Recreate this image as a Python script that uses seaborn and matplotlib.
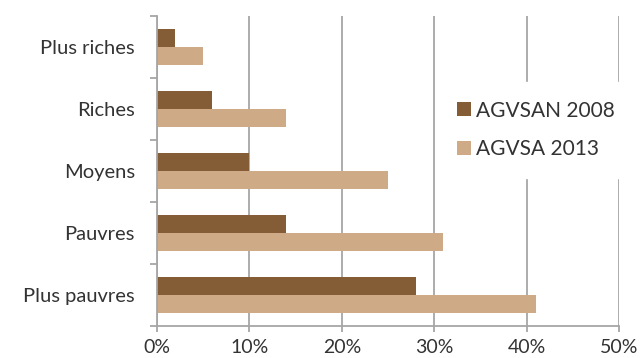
import matplotlib
matplotlib.use("Agg")
import matplotlib.pyplot as plt
import seaborn as sns
import pandas as pd
from matplotlib.ticker import FixedLocator, PercentFormatter
from matplotlib.patches import Patch

categories = ["Plus riches", "Riches", "Moyens", "Pauvres", "Plus pauvres"]
series_names = ["AGVSAN 2008", "AGVSA 2013"]
agvsan_2008 = [2, 6, 10, 14, 28]
agvsa_2013 = [5, 14, 25, 31, 41]
x_ticks = [0, 10, 20, 30, 40, 50]

colors = ["#845C36", "#CFAA87"]

df = pd.DataFrame({
    "cat": categories * 2,
    "serie": [series_names[0]] * 5 + [series_names[1]] * 5,
    "val": agvsan_2008 + agvsa_2013,
})

sns.set_theme(style="white")
plt.rcParams["font.family"] = ["Lato", "DejaVu Sans"]

fig = plt.figure(figsize=(6.42, 3.58), dpi=100)
ax = fig.add_axes([157/642, 1-326/358, (619-157)/642, (326-16)/358])

sns.barplot(data=df, y="cat", x="val", hue="serie", order=categories,
            hue_order=series_names, palette=colors, width=0.58,
            saturation=1, ax=ax, legend=False, linewidth=0)

ax.set_xlim(0, 50)
ax.set_ylim(4.5, -0.5)
ax.set_xticks(x_ticks)
ax.xaxis.set_major_formatter(PercentFormatter(decimals=0))
ax.set_xlabel("")
ax.set_ylabel("")

grid_c = "#A6A6A6"
text_c = "#333333"
ax.grid(axis="x", color=grid_c, linewidth=1.3)
ax.set_axisbelow(True)
for s in ["top", "right"]:
    ax.spines[s].set_visible(False)
for s in ["left", "bottom"]:
    ax.spines[s].set_color(grid_c)
    ax.spines[s].set_linewidth(1.3)

ax.yaxis.set_minor_locator(FixedLocator([-0.5, 0.5, 1.5, 2.5, 3.5, 4.5]))
ax.tick_params(axis="y", which="major", length=0, pad=16, labelsize=14.5, labelcolor=text_c)
ax.tick_params(axis="y", which="minor", length=5, width=1.3, color=grid_c, left=True)
ax.tick_params(axis="x", which="major", length=4.5, width=1.3, color=grid_c, bottom=True,
               pad=5, labelsize=14, labelcolor=text_c)

handles = [Patch(facecolor=c, edgecolor="none") for c in colors]
leg = ax.legend(handles, series_names, loc="center left", bbox_to_anchor=(0.586, 0.632),
                frameon=True, fancybox=False, framealpha=1, edgecolor="white",
                facecolor="white", fontsize=15, handlelength=0.67, handleheight=0.67,
                handletextpad=0.25, labelspacing=0.9, borderpad=0.9)
for t in leg.get_texts():
    t.set_color(text_c)

fig.savefig("out.png", dpi=100)
